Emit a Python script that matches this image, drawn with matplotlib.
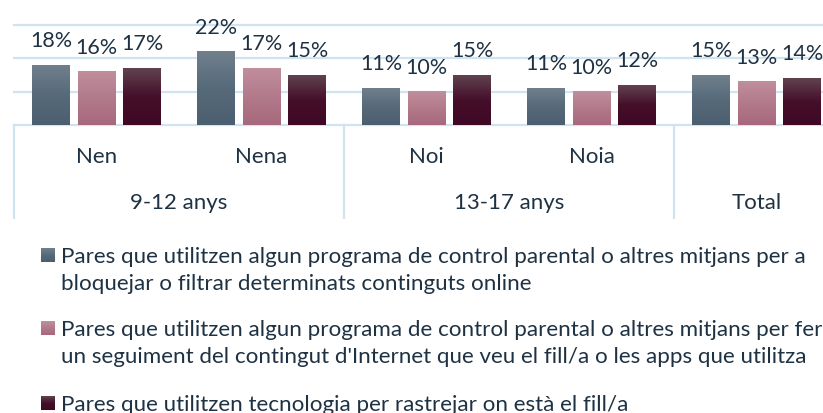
import numpy as np
import matplotlib.pyplot as plt
from matplotlib.colors import LinearSegmentedColormap
from matplotlib.transforms import blended_transform_factory

# dades (%)
categories = ['Nen', 'Nena', 'Noi', 'Noia', 'Total']
groups = ['9-12 anys', '13-17 anys', 'Total']
group_spans = [(0, 1), (2, 3), (4, 4)]
bloquejar = [18, 22, 11, 11, 15]
seguiment = [16, 17, 10, 10, 13]
rastrejar = [17, 15, 15, 12, 14]

series_labels = [
    ["Pares que utilitzen algun programa de control parental o altres mitjans per a",
     "bloquejar o filtrar determinats continguts online"],
    ["Pares que utilitzen algun programa de control parental o altres mitjans per fer",
     "un seguiment del contingut d'Internet que veu el fill/a o les apps que utilitza"],
    ["Pares que utilitzen tecnologia per rastrejar on està el fill/a"],
]

# degradats de dalt a baix
gradients = [
    ['#707f8c', '#566a7a', '#4b5f70'],
    ['#c08e9c', '#b27a8b', '#a7687d'],
    ['#60424f', '#450f2a', '#3f0825'],
]
text_color = '#1e3243'
line_color = '#cfe3f1'

plt.rcParams['font.family'] = ['Lato', 'DejaVu Sans']

W, H = 823, 413
fig = plt.figure(figsize=(W / 100, H / 100), dpi=100)
ax = fig.add_axes([14 / W, 1 - 125 / H, (823 - 14) / W, 100 / H])

x = np.arange(len(categories))
step = 0.276
width = 0.23
all_series = [bloquejar, seguiment, rastrejar]

for i, (vals, cols) in enumerate(zip(all_series, gradients)):
    cmap = LinearSegmentedColormap.from_list(f'g{i}', cols)
    grad = np.linspace(0, 1, 64).reshape(-1, 1)
    pos = x + (i - 1) * step
    bars = ax.bar(pos, vals, width, color='none', zorder=3)
    for b, v in zip(bars, vals):
        x0 = b.get_x()
        ax.imshow(grad, extent=[x0, x0 + width, 0, v], origin='upper',
                  cmap=cmap, aspect='auto', zorder=3, interpolation='bicubic')
        ax.annotate(f'{v}%', (x0 + width / 2, v), xytext=(0, 13),
                    textcoords='offset points', ha='center', va='baseline',
                    fontsize=15.5, color=text_color, annotation_clip=False)

ax.set_xlim(-0.5, 4.5 - 16 / 165)
ax.set_ylim(0, 30)
for s in ax.spines.values():
    s.set_visible(False)
ax.set_xticks([])
ax.set_yticks([])
for yv in [0, 10, 20, 30]:
    ax.axhline(yv, color=line_color, lw=1.6, zorder=1, clip_on=False)

# taula de categories sota l'eix
tr = blended_transform_factory(ax.transData, ax.transAxes)
for xv in [-0.5, 1.5, 3.5]:
    ax.plot([xv, xv], [0, -0.93], transform=tr, color=line_color, lw=1.6,
            clip_on=False)
for xi, c in zip(x, categories[:4]):
    ax.text(xi, -0.32, c, transform=tr, ha='center', va='center',
            fontsize=16, color=text_color)
for g, (a, b) in zip(groups, group_spans):
    ax.text((a + b) / 2, -0.78, g, transform=tr, ha='center', va='center',
            fontsize=16, color=text_color)

# llegenda manual
legend_rows = [255, 328, 403]
for lines, cols, yc in zip(series_labels, gradients, legend_rows):
    cmap = LinearSegmentedColormap.from_list('lg', cols)
    lax = fig.add_axes([41 / W, 1 - (yc + 7) / H, 14 / W, 14 / H])
    lax.imshow(np.linspace(0, 1, 32).reshape(-1, 1), cmap=cmap, aspect='auto')
    lax.axis('off')
    for k, line in enumerate(lines):
        fig.text(61 / W, 1 - (yc + 27 * k) / H, line, ha='left',
                 va='center_baseline', fontsize=16.1, color=text_color)

fig.savefig('out.png', dpi=100)
